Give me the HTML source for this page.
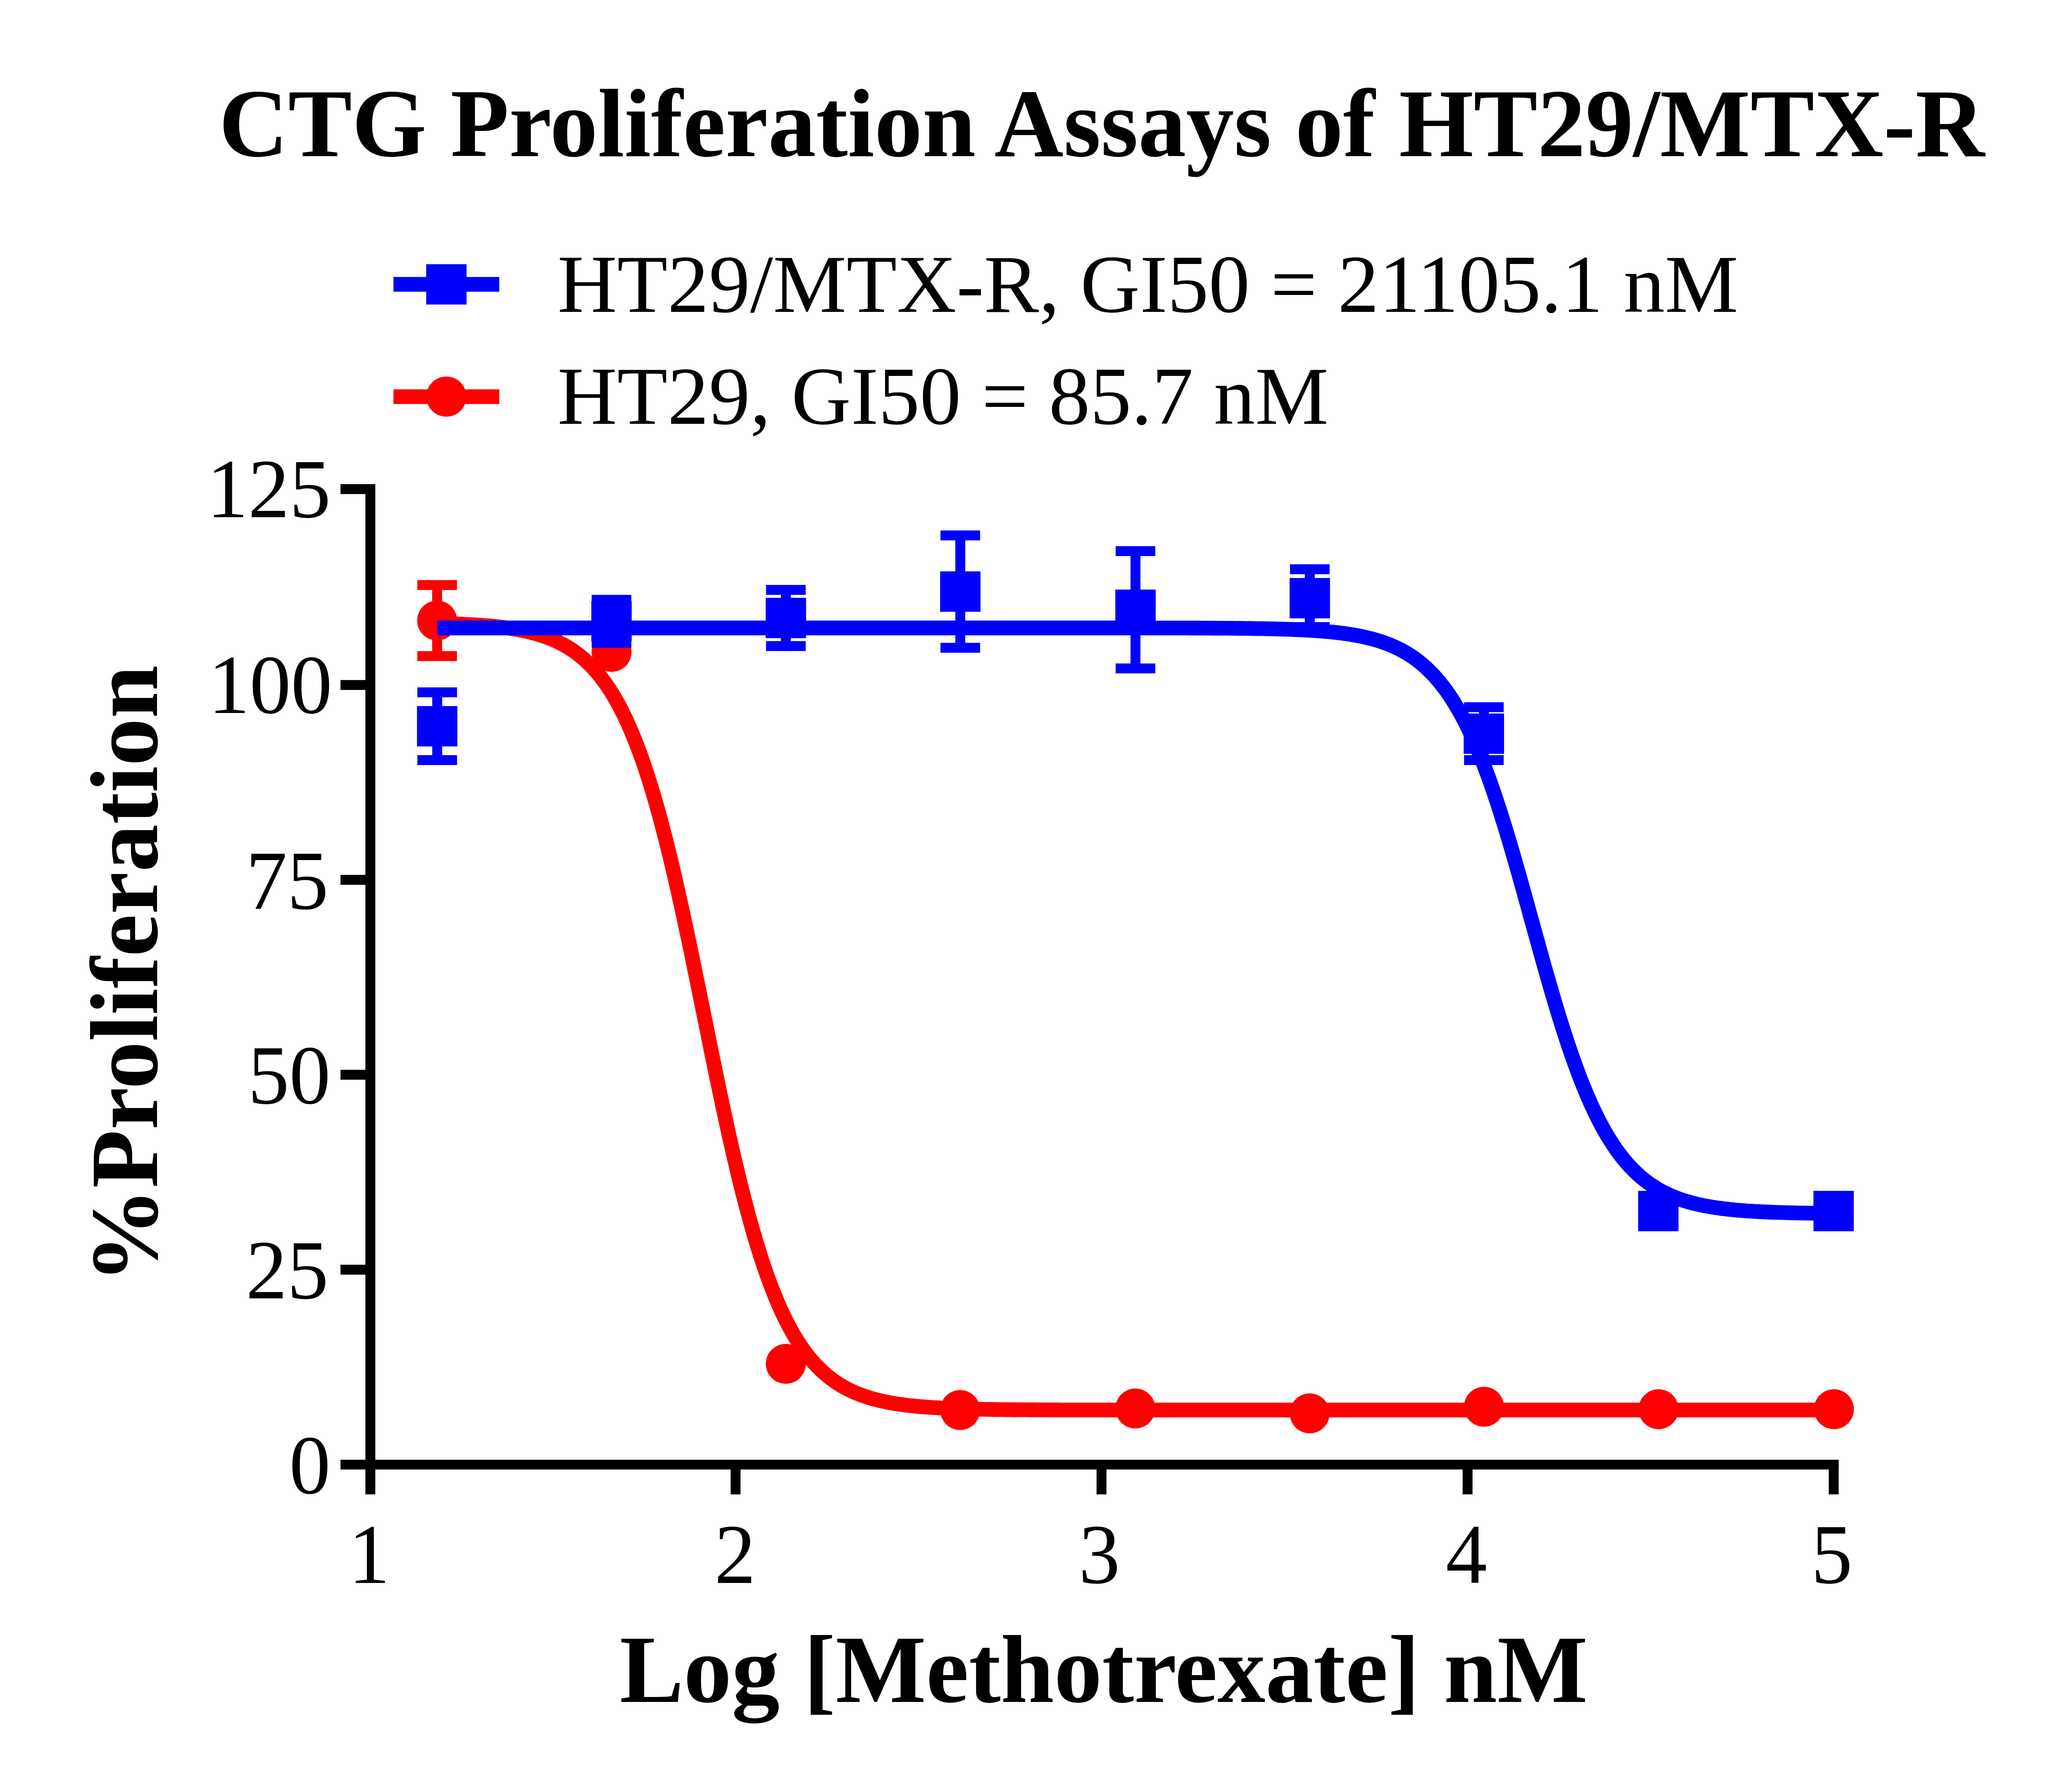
<!DOCTYPE html>
<html><head><meta charset="utf-8"><style>html,body{margin:0;padding:0;background:#fff;width:5008px;height:4338px;overflow:hidden}</style></head>
<body><svg width="5008" height="4338" viewBox="0 0 5008 4338" style="position:absolute;left:0;top:0"><rect width="5008" height="4338" fill="#fff"/><text transform="translate(2666.4 378) scale(0.987 1)" text-anchor="middle" style="font-family:'Liberation Serif',serif;font-weight:bold;font-size:235px">CTG Proliferation Assays of HT29/MTX-R</text><rect x="952.2" y="670.5" width="256.1" height="35.7" fill="#0000FF"/><rect x="1031.4" y="639.5" width="97.7" height="97.7" fill="#0000FF"/><text transform="translate(1349.3 754.5) scale(0.9989 1)" style="font-family:'Liberation Serif',serif;font-size:200px">HT29/MTX-R, GI50 = 21105.1 nM</text><rect x="952.2" y="942.5" width="256.1" height="35.5" fill="#FF0000"/><circle cx="1080.2" cy="960.1" r="48.5" fill="#FF0000"/><text transform="translate(1349.3 1026.3) scale(0.9989 1)" style="font-family:'Liberation Serif',serif;font-size:200px">HT29, GI50 = 85.7 nM</text><rect x="884.3" y="1172" width="24" height="2445.5" fill="#000"/><rect x="824" y="3533.7" width="3626" height="23.6" fill="#000"/><rect x="824" y="1172.0" width="62" height="24" fill="#000"/><rect x="824" y="1646.2" width="62" height="24" fill="#000"/><rect x="824" y="2117.9" width="62" height="24" fill="#000"/><rect x="824" y="2589.7" width="62" height="24" fill="#000"/><rect x="824" y="3061.6" width="62" height="24" fill="#000"/><rect x="1768.2" y="3555" width="24" height="62.5" fill="#000"/><rect x="2653.8" y="3555" width="24" height="62.5" fill="#000"/><rect x="3539.7" y="3555" width="24" height="62.5" fill="#000"/><rect x="4425.8" y="3555" width="24" height="62.5" fill="#000"/><text transform="translate(650.6 1251.8) scale(1 1.02)" text-anchor="middle" style="font-family:'Liberation Serif',serif;font-size:200px">125</text><text transform="translate(653.9 1725.5) scale(1 1.02)" text-anchor="middle" style="font-family:'Liberation Serif',serif;font-size:200px">100</text><text transform="translate(694.9 2199.8) scale(1 1.02)" text-anchor="middle" style="font-family:'Liberation Serif',serif;font-size:200px">75</text><text transform="translate(700.1 2671.3) scale(1 1.02)" text-anchor="middle" style="font-family:'Liberation Serif',serif;font-size:200px">50</text><text transform="translate(695.0 3143.3) scale(1 1.02)" text-anchor="middle" style="font-family:'Liberation Serif',serif;font-size:200px">25</text><text transform="translate(750.1 3614.7) scale(1 1.02)" text-anchor="middle" style="font-family:'Liberation Serif',serif;font-size:200px">0</text><text transform="translate(893.5 3832) scale(1 1.03)" text-anchor="middle" style="font-family:'Liberation Serif',serif;font-size:200px">1</text><text transform="translate(1778.9 3832) scale(1 1.03)" text-anchor="middle" style="font-family:'Liberation Serif',serif;font-size:200px">2</text><text transform="translate(2660.7 3832) scale(1 1.03)" text-anchor="middle" style="font-family:'Liberation Serif',serif;font-size:200px">3</text><text transform="translate(3549.1 3832) scale(1 1.03)" text-anchor="middle" style="font-family:'Liberation Serif',serif;font-size:200px">4</text><text transform="translate(4433.3 3832) scale(1 1.03)" text-anchor="middle" style="font-family:'Liberation Serif',serif;font-size:200px">5</text><text transform="translate(2671.2 4119.5) scale(0.9925 1)" text-anchor="middle" style="font-family:'Liberation Serif',serif;font-weight:bold;font-size:234px">Log [Methotrexate] nM</text><text transform="translate(380.3 2358.6) rotate(-90) scale(0.9869 1)" text-anchor="middle" style="font-family:'Liberation Serif',serif;font-weight:bold;font-size:234px">%Proliferation</text><rect x="1045.9" y="1416.2" width="24" height="172.0" fill="#FF0000"/><rect x="1009.9" y="1404.2" width="96" height="24" fill="#FF0000"/><rect x="1009.9" y="1576.2" width="96" height="24" fill="#FF0000"/><circle cx="1057.9" cy="1502.2" r="48.3" fill="#FF0000"/><circle cx="1480.2" cy="1578.0" r="48.3" fill="#FF0000"/><circle cx="1901.7" cy="3301.5" r="48.3" fill="#FF0000"/><circle cx="2323.6" cy="3413.3" r="48.3" fill="#FF0000"/><circle cx="2747.7" cy="3409.6" r="48.3" fill="#FF0000"/><circle cx="3169.7" cy="3421.3" r="48.3" fill="#FF0000"/><circle cx="3591.4" cy="3405.3" r="48.3" fill="#FF0000"/><circle cx="4013.9" cy="3411.4" r="48.3" fill="#FF0000"/><circle cx="4438.4" cy="3411.4" r="48.3" fill="#FF0000"/><path d="M1058.0 1509.0L1063.6 1509.1L1069.3 1509.3L1074.9 1509.4L1080.6 1509.6L1086.2 1509.8L1091.9 1510.0L1097.5 1510.2L1103.1 1510.4L1108.8 1510.6L1114.4 1510.8L1120.1 1511.1L1125.7 1511.4L1131.4 1511.6L1137.0 1511.9L1142.6 1512.3L1148.3 1512.6L1153.9 1513.0L1159.6 1513.3L1165.2 1513.7L1170.9 1514.2L1176.5 1514.6L1182.1 1515.1L1187.8 1515.6L1193.4 1516.1L1199.1 1516.7L1204.7 1517.3L1210.4 1517.9L1216.0 1518.6L1221.6 1519.3L1227.3 1520.1L1232.9 1520.9L1238.6 1521.8L1244.2 1522.7L1249.9 1523.6L1255.5 1524.6L1261.1 1525.7L1266.8 1526.8L1272.4 1528.0L1278.1 1529.3L1283.7 1530.7L1289.4 1532.1L1295.0 1533.6L1300.6 1535.2L1306.3 1536.9L1311.9 1538.7L1317.6 1540.6L1323.2 1542.6L1328.9 1544.7L1334.5 1547.0L1340.1 1549.3L1345.8 1551.9L1351.4 1554.5L1357.1 1557.3L1362.7 1560.3L1368.4 1563.4L1374.0 1566.7L1379.6 1570.2L1385.3 1573.9L1390.9 1577.8L1396.6 1582.0L1402.2 1586.3L1407.8 1590.9L1413.5 1595.7L1419.1 1600.9L1424.8 1606.2L1430.4 1611.9L1436.1 1617.9L1441.7 1624.2L1447.3 1630.8L1453.0 1637.8L1458.6 1645.1L1464.3 1652.8L1469.9 1660.9L1475.6 1669.4L1481.2 1678.3L1486.8 1687.7L1492.5 1697.5L1498.1 1707.8L1503.8 1718.6L1509.4 1729.8L1515.1 1741.6L1520.7 1754.0L1526.3 1766.8L1532.0 1780.3L1537.6 1794.3L1543.3 1808.9L1548.9 1824.0L1554.6 1839.8L1560.2 1856.2L1565.8 1873.2L1571.5 1890.9L1577.1 1909.1L1582.8 1928.0L1588.4 1947.6L1594.1 1967.7L1599.7 1988.5L1605.3 2009.9L1611.0 2031.8L1616.6 2054.4L1622.3 2077.5L1627.9 2101.2L1633.6 2125.4L1639.2 2150.1L1644.8 2175.3L1650.5 2200.9L1656.1 2227.0L1661.8 2253.4L1667.4 2280.1L1673.1 2307.2L1678.7 2334.5L1684.3 2362.0L1690.0 2389.7L1695.6 2417.4L1701.3 2445.3L1706.9 2473.2L1712.6 2501.1L1718.2 2528.9L1723.8 2556.6L1729.5 2584.1L1735.1 2611.4L1740.8 2638.5L1746.4 2665.2L1752.1 2691.7L1757.7 2717.7L1763.3 2743.4L1769.0 2768.6L1774.6 2793.3L1780.3 2817.5L1785.9 2841.3L1791.6 2864.4L1797.2 2887.0L1802.8 2909.0L1808.5 2930.4L1814.1 2951.2L1819.8 2971.4L1825.4 2991.0L1831.1 3009.9L1836.7 3028.2L1842.3 3045.9L1848.0 3062.9L1853.6 3079.4L1859.3 3095.2L1864.9 3110.4L1870.6 3125.0L1876.2 3139.0L1881.8 3152.5L1887.5 3165.4L1893.1 3177.8L1898.8 3189.6L1904.4 3200.9L1910.1 3211.7L1915.7 3222.0L1921.3 3231.8L1927.0 3241.2L1932.6 3250.2L1938.3 3258.7L1943.9 3266.8L1949.6 3274.5L1955.2 3281.9L1960.8 3288.9L1966.5 3295.5L1972.1 3301.8L1977.8 3307.8L1983.4 3313.5L1989.1 3318.9L1994.7 3324.0L2000.3 3328.9L2006.0 3333.5L2011.6 3337.8L2017.3 3342.0L2022.9 3345.9L2028.6 3349.6L2034.2 3353.1L2039.8 3356.4L2045.5 3359.6L2051.1 3362.6L2056.8 3365.4L2062.4 3368.0L2068.1 3370.6L2073.7 3372.9L2079.3 3375.2L2085.0 3377.3L2090.6 3379.3L2096.3 3381.2L2101.9 3383.0L2107.5 3384.7L2113.2 3386.4L2118.8 3387.9L2124.5 3389.3L2130.1 3390.7L2135.8 3391.9L2141.4 3393.1L2147.0 3394.3L2152.7 3395.4L2158.3 3396.4L2164.0 3397.3L2169.6 3398.2L2175.3 3399.1L2180.9 3399.9L2186.5 3400.7L2192.2 3401.4L2197.8 3402.1L2203.5 3402.7L2209.1 3403.3L2214.8 3403.9L2220.4 3404.4L2226.0 3404.9L2231.7 3405.4L2237.3 3405.9L2243.0 3406.3L2248.6 3406.7L2254.3 3407.1L2259.9 3407.4L2265.5 3407.8L2271.2 3408.1L2276.8 3408.4L2282.5 3408.7L2288.1 3408.9L2293.8 3409.2L2299.4 3409.4L2305.0 3409.7L2310.7 3409.9L2316.3 3410.1L2322.0 3410.3L2327.6 3410.4L2333.3 3410.6L2338.9 3410.8L2344.5 3410.9L2350.2 3411.1L2355.8 3411.2L2361.5 3411.3L2367.1 3411.4L2372.8 3411.5L2378.4 3411.6L2384.0 3411.7L2389.7 3411.8L2395.3 3411.9L2401.0 3412.0L2406.6 3412.1L2412.3 3412.2L2417.9 3412.2L2423.5 3412.3L2429.2 3412.4L2434.8 3412.4L2440.5 3412.5L2446.1 3412.5L2451.8 3412.6L2457.4 3412.6L2463.0 3412.7L2468.7 3412.7L2474.3 3412.7L2480.0 3412.8L2485.6 3412.8L2491.3 3412.9L2496.9 3412.9L2502.5 3412.9L2508.2 3412.9L2513.8 3413.0L2519.5 3413.0L2525.1 3413.0L2530.8 3413.0L2536.4 3413.1L2542.0 3413.1L2547.7 3413.1L2553.3 3413.1L2559.0 3413.1L2564.6 3413.1L2570.3 3413.2L2575.9 3413.2L2581.5 3413.2L2587.2 3413.2L2592.8 3413.2L2598.5 3413.2L2604.1 3413.2L2609.8 3413.2L2615.4 3413.2L2621.0 3413.3L2626.7 3413.3L2632.3 3413.3L2638.0 3413.3L2643.6 3413.3L2649.3 3413.3L2654.9 3413.3L2660.5 3413.3L2666.2 3413.3L2671.8 3413.3L2677.5 3413.3L2683.1 3413.3L2688.8 3413.3L2694.4 3413.3L2700.0 3413.3L2705.7 3413.3L2711.3 3413.3L2717.0 3413.3L2722.6 3413.3L2728.3 3413.3L2733.9 3413.4L2739.5 3413.4L2745.2 3413.4L2750.8 3413.4L2756.5 3413.4L2762.1 3413.4L2767.7 3413.4L2773.4 3413.4L2779.0 3413.4L2784.7 3413.4L2790.3 3413.4L2796.0 3413.4L2801.6 3413.4L2807.2 3413.4L2812.9 3413.4L2818.5 3413.4L2824.2 3413.4L2829.8 3413.4L2835.5 3413.4L2841.1 3413.4L2846.7 3413.4L2852.4 3413.4L2858.0 3413.4L2863.7 3413.4L2869.3 3413.4L2875.0 3413.4L2880.6 3413.4L2886.2 3413.4L2891.9 3413.4L2897.5 3413.4L2903.2 3413.4L2908.8 3413.4L2914.5 3413.4L2920.1 3413.4L2925.7 3413.4L2931.4 3413.4L2937.0 3413.4L2942.7 3413.4L2948.3 3413.4L2954.0 3413.4L2959.6 3413.4L2965.2 3413.4L2970.9 3413.4L2976.5 3413.4L2982.2 3413.4L2987.8 3413.4L2993.5 3413.4L2999.1 3413.4L3004.7 3413.4L3010.4 3413.4L3016.0 3413.4L3021.7 3413.4L3027.3 3413.4L3033.0 3413.4L3038.6 3413.4L3044.2 3413.4L3049.9 3413.4L3055.5 3413.4L3061.2 3413.4L3066.8 3413.4L3072.5 3413.4L3078.1 3413.4L3083.7 3413.4L3089.4 3413.4L3095.0 3413.4L3100.7 3413.4L3106.3 3413.4L3112.0 3413.4L3117.6 3413.4L3123.2 3413.4L3128.9 3413.4L3134.5 3413.4L3140.2 3413.4L3145.8 3413.4L3151.5 3413.4L3157.1 3413.4L3162.7 3413.4L3168.4 3413.4L3174.0 3413.4L3179.7 3413.4L3185.3 3413.4L3191.0 3413.4L3196.6 3413.4L3202.2 3413.4L3207.9 3413.4L3213.5 3413.4L3219.2 3413.4L3224.8 3413.4L3230.5 3413.4L3236.1 3413.4L3241.7 3413.4L3247.4 3413.4L3253.0 3413.4L3258.7 3413.4L3264.3 3413.4L3270.0 3413.4L3275.6 3413.4L3281.2 3413.4L3286.9 3413.4L3292.5 3413.4L3298.2 3413.4L3303.8 3413.4L3309.5 3413.4L3315.1 3413.4L3320.7 3413.4L3326.4 3413.4L3332.0 3413.4L3337.7 3413.4L3343.3 3413.4L3349.0 3413.4L3354.6 3413.4L3360.2 3413.4L3365.9 3413.4L3371.5 3413.4L3377.2 3413.4L3382.8 3413.4L3388.5 3413.4L3394.1 3413.4L3399.7 3413.4L3405.4 3413.4L3411.0 3413.4L3416.7 3413.4L3422.3 3413.4L3427.9 3413.4L3433.6 3413.4L3439.2 3413.4L3444.9 3413.4L3450.5 3413.4L3456.2 3413.4L3461.8 3413.4L3467.4 3413.4L3473.1 3413.4L3478.7 3413.4L3484.4 3413.4L3490.0 3413.4L3495.7 3413.4L3501.3 3413.4L3506.9 3413.4L3512.6 3413.4L3518.2 3413.4L3523.9 3413.4L3529.5 3413.4L3535.2 3413.4L3540.8 3413.4L3546.4 3413.4L3552.1 3413.4L3557.7 3413.4L3563.4 3413.4L3569.0 3413.4L3574.7 3413.4L3580.3 3413.4L3585.9 3413.4L3591.6 3413.4L3597.2 3413.4L3602.9 3413.4L3608.5 3413.4L3614.2 3413.4L3619.8 3413.4L3625.4 3413.4L3631.1 3413.4L3636.7 3413.4L3642.4 3413.4L3648.0 3413.4L3653.7 3413.4L3659.3 3413.4L3664.9 3413.4L3670.6 3413.4L3676.2 3413.4L3681.9 3413.4L3687.5 3413.4L3693.2 3413.4L3698.8 3413.4L3704.4 3413.4L3710.1 3413.4L3715.7 3413.4L3721.4 3413.4L3727.0 3413.4L3732.7 3413.4L3738.3 3413.4L3743.9 3413.4L3749.6 3413.4L3755.2 3413.4L3760.9 3413.4L3766.5 3413.4L3772.2 3413.4L3777.8 3413.4L3783.4 3413.4L3789.1 3413.4L3794.7 3413.4L3800.4 3413.4L3806.0 3413.4L3811.7 3413.4L3817.3 3413.4L3822.9 3413.4L3828.6 3413.4L3834.2 3413.4L3839.9 3413.4L3845.5 3413.4L3851.2 3413.4L3856.8 3413.4L3862.4 3413.4L3868.1 3413.4L3873.7 3413.4L3879.4 3413.4L3885.0 3413.4L3890.7 3413.4L3896.3 3413.4L3901.9 3413.4L3907.6 3413.4L3913.2 3413.4L3918.9 3413.4L3924.5 3413.4L3930.2 3413.4L3935.8 3413.4L3941.4 3413.4L3947.1 3413.4L3952.7 3413.4L3958.4 3413.4L3964.0 3413.4L3969.7 3413.4L3975.3 3413.4L3980.9 3413.4L3986.6 3413.4L3992.2 3413.4L3997.9 3413.4L4003.5 3413.4L4009.2 3413.4L4014.8 3413.4L4020.4 3413.4L4026.1 3413.4L4031.7 3413.4L4037.4 3413.4L4043.0 3413.4L4048.7 3413.4L4054.3 3413.4L4059.9 3413.4L4065.6 3413.4L4071.2 3413.4L4076.9 3413.4L4082.5 3413.4L4088.2 3413.4L4093.8 3413.4L4099.4 3413.4L4105.1 3413.4L4110.7 3413.4L4116.4 3413.4L4122.0 3413.4L4127.6 3413.4L4133.3 3413.4L4138.9 3413.4L4144.6 3413.4L4150.2 3413.4L4155.9 3413.4L4161.5 3413.4L4167.1 3413.4L4172.8 3413.4L4178.4 3413.4L4184.1 3413.4L4189.7 3413.4L4195.4 3413.4L4201.0 3413.4L4206.6 3413.4L4212.3 3413.4L4217.9 3413.4L4223.6 3413.4L4229.2 3413.4L4234.9 3413.4L4240.5 3413.4L4246.1 3413.4L4251.8 3413.4L4257.4 3413.4L4263.1 3413.4L4268.7 3413.4L4274.4 3413.4L4280.0 3413.4L4285.6 3413.4L4291.3 3413.4L4296.9 3413.4L4302.6 3413.4L4308.2 3413.4L4313.9 3413.4L4319.5 3413.4L4325.1 3413.4L4330.8 3413.4L4336.4 3413.4L4342.1 3413.4L4347.7 3413.4L4353.4 3413.4L4359.0 3413.4L4364.6 3413.4L4370.3 3413.4L4375.9 3413.4L4381.6 3413.4L4387.2 3413.4L4392.9 3413.4L4398.5 3413.4L4404.1 3413.4L4409.8 3413.4L4415.4 3413.4L4421.1 3413.4L4426.7 3413.4L4432.4 3413.4L4438.0 3413.4" fill="none" stroke="#FF0000" stroke-width="35.6" stroke-linejoin="round"/><rect x="1046.1" y="1676.0" width="24" height="164.0" fill="#0000FF"/><rect x="1010.1" y="1664.0" width="96" height="24" fill="#0000FF"/><rect x="1010.1" y="1828.0" width="96" height="24" fill="#0000FF"/><rect x="1467.9" y="1452.0" width="24" height="104.0" fill="#0000FF"/><rect x="1431.9" y="1440.0" width="96" height="24" fill="#0000FF"/><rect x="1431.9" y="1544.0" width="96" height="24" fill="#0000FF"/><rect x="1889.9" y="1428.0" width="24" height="136.0" fill="#0000FF"/><rect x="1853.9" y="1416.0" width="96" height="24" fill="#0000FF"/><rect x="1853.9" y="1552.0" width="96" height="24" fill="#0000FF"/><rect x="2312.0" y="1296.1" width="24" height="272.0" fill="#0000FF"/><rect x="2276.0" y="1284.1" width="96" height="24" fill="#0000FF"/><rect x="2276.0" y="1556.1" width="96" height="24" fill="#0000FF"/><rect x="2736.0" y="1334.1" width="24" height="284.0" fill="#0000FF"/><rect x="2700.0" y="1322.1" width="96" height="24" fill="#0000FF"/><rect x="2700.0" y="1606.1" width="96" height="24" fill="#0000FF"/><rect x="3157.9" y="1378.0" width="24" height="140.0" fill="#0000FF"/><rect x="3121.9" y="1366.0" width="96" height="24" fill="#0000FF"/><rect x="3121.9" y="1506.0" width="96" height="24" fill="#0000FF"/><rect x="3579.2" y="1712.0" width="24" height="128.0" fill="#0000FF"/><rect x="3543.2" y="1700.0" width="96" height="24" fill="#0000FF"/><rect x="3543.2" y="1828.0" width="96" height="24" fill="#0000FF"/><rect x="1009.2" y="1709.2" width="97.7" height="97.7" fill="#0000FF"/><rect x="1431.1" y="1455.2" width="97.7" height="97.7" fill="#0000FF"/><rect x="1853.1" y="1447.2" width="97.7" height="97.7" fill="#0000FF"/><rect x="2275.2" y="1383.2" width="97.7" height="97.7" fill="#0000FF"/><rect x="2699.2" y="1427.2" width="97.7" height="97.7" fill="#0000FF"/><rect x="3121.1" y="1399.2" width="97.7" height="97.7" fill="#0000FF"/><rect x="3542.3" y="1727.2" width="97.7" height="97.7" fill="#0000FF"/><rect x="3964.5" y="2882.8" width="97.7" height="97.7" fill="#0000FF"/><rect x="4388.8" y="2882.8" width="97.7" height="97.7" fill="#0000FF"/><path d="M1058.0 1520.1L1063.6 1520.1L1069.3 1520.1L1074.9 1520.1L1080.6 1520.1L1086.2 1520.1L1091.9 1520.1L1097.5 1520.1L1103.1 1520.1L1108.8 1520.1L1114.4 1520.1L1120.1 1520.1L1125.7 1520.1L1131.3 1520.1L1137.0 1520.1L1142.6 1520.1L1148.3 1520.1L1153.9 1520.1L1159.6 1520.1L1165.2 1520.1L1170.8 1520.1L1176.5 1520.1L1182.1 1520.1L1187.8 1520.1L1193.4 1520.1L1199.1 1520.1L1204.7 1520.1L1210.3 1520.1L1216.0 1520.1L1221.6 1520.1L1227.3 1520.1L1232.9 1520.1L1238.5 1520.1L1244.2 1520.1L1249.8 1520.1L1255.5 1520.1L1261.1 1520.1L1266.8 1520.1L1272.4 1520.1L1278.0 1520.1L1283.7 1520.1L1289.3 1520.1L1295.0 1520.1L1300.6 1520.1L1306.3 1520.1L1311.9 1520.1L1317.5 1520.1L1323.2 1520.1L1328.8 1520.1L1334.5 1520.1L1340.1 1520.1L1345.7 1520.1L1351.4 1520.1L1357.0 1520.1L1362.7 1520.1L1368.3 1520.1L1374.0 1520.1L1379.6 1520.1L1385.2 1520.1L1390.9 1520.1L1396.5 1520.1L1402.2 1520.1L1407.8 1520.1L1413.5 1520.1L1419.1 1520.1L1424.7 1520.1L1430.4 1520.1L1436.0 1520.1L1441.7 1520.1L1447.3 1520.1L1452.9 1520.1L1458.6 1520.1L1464.2 1520.1L1469.9 1520.1L1475.5 1520.1L1481.2 1520.1L1486.8 1520.1L1492.4 1520.1L1498.1 1520.1L1503.7 1520.1L1509.4 1520.1L1515.0 1520.1L1520.6 1520.1L1526.3 1520.1L1531.9 1520.1L1537.6 1520.1L1543.2 1520.1L1548.9 1520.1L1554.5 1520.1L1560.1 1520.1L1565.8 1520.1L1571.4 1520.1L1577.1 1520.1L1582.7 1520.1L1588.4 1520.1L1594.0 1520.1L1599.6 1520.1L1605.3 1520.1L1610.9 1520.1L1616.6 1520.1L1622.2 1520.1L1627.8 1520.1L1633.5 1520.1L1639.1 1520.1L1644.8 1520.1L1650.4 1520.1L1656.1 1520.1L1661.7 1520.1L1667.3 1520.1L1673.0 1520.1L1678.6 1520.1L1684.3 1520.1L1689.9 1520.1L1695.6 1520.1L1701.2 1520.1L1706.8 1520.1L1712.5 1520.1L1718.1 1520.1L1723.8 1520.1L1729.4 1520.1L1735.0 1520.1L1740.7 1520.1L1746.3 1520.1L1752.0 1520.1L1757.6 1520.1L1763.3 1520.1L1768.9 1520.1L1774.5 1520.1L1780.2 1520.1L1785.8 1520.1L1791.5 1520.1L1797.1 1520.1L1802.8 1520.1L1808.4 1520.1L1814.0 1520.1L1819.7 1520.1L1825.3 1520.1L1831.0 1520.1L1836.6 1520.1L1842.2 1520.1L1847.9 1520.1L1853.5 1520.1L1859.2 1520.1L1864.8 1520.1L1870.5 1520.1L1876.1 1520.1L1881.7 1520.1L1887.4 1520.1L1893.0 1520.1L1898.7 1520.1L1904.3 1520.1L1910.0 1520.1L1915.6 1520.1L1921.2 1520.1L1926.9 1520.1L1932.5 1520.1L1938.2 1520.1L1943.8 1520.1L1949.4 1520.1L1955.1 1520.1L1960.7 1520.1L1966.4 1520.1L1972.0 1520.1L1977.7 1520.1L1983.3 1520.1L1988.9 1520.1L1994.6 1520.1L2000.2 1520.1L2005.9 1520.1L2011.5 1520.1L2017.2 1520.1L2022.8 1520.1L2028.4 1520.1L2034.1 1520.1L2039.7 1520.1L2045.4 1520.1L2051.0 1520.1L2056.6 1520.1L2062.3 1520.1L2067.9 1520.1L2073.6 1520.1L2079.2 1520.1L2084.9 1520.1L2090.5 1520.1L2096.1 1520.1L2101.8 1520.1L2107.4 1520.1L2113.1 1520.1L2118.7 1520.1L2124.4 1520.1L2130.0 1520.1L2135.6 1520.1L2141.3 1520.1L2146.9 1520.1L2152.6 1520.1L2158.2 1520.1L2163.8 1520.1L2169.5 1520.1L2175.1 1520.1L2180.8 1520.1L2186.4 1520.1L2192.1 1520.1L2197.7 1520.1L2203.3 1520.1L2209.0 1520.1L2214.6 1520.1L2220.3 1520.1L2225.9 1520.1L2231.6 1520.1L2237.2 1520.1L2242.8 1520.1L2248.5 1520.1L2254.1 1520.1L2259.8 1520.1L2265.4 1520.1L2271.0 1520.1L2276.7 1520.1L2282.3 1520.1L2288.0 1520.1L2293.6 1520.1L2299.3 1520.1L2304.9 1520.1L2310.5 1520.1L2316.2 1520.1L2321.8 1520.1L2327.5 1520.1L2333.1 1520.1L2338.7 1520.1L2344.4 1520.1L2350.0 1520.1L2355.7 1520.1L2361.3 1520.1L2367.0 1520.1L2372.6 1520.1L2378.2 1520.1L2383.9 1520.1L2389.5 1520.1L2395.2 1520.1L2400.8 1520.1L2406.5 1520.1L2412.1 1520.1L2417.7 1520.1L2423.4 1520.1L2429.0 1520.1L2434.7 1520.1L2440.3 1520.1L2445.9 1520.1L2451.6 1520.1L2457.2 1520.1L2462.9 1520.1L2468.5 1520.1L2474.2 1520.1L2479.8 1520.1L2485.4 1520.1L2491.1 1520.1L2496.7 1520.1L2502.4 1520.1L2508.0 1520.1L2513.7 1520.1L2519.3 1520.1L2524.9 1520.1L2530.6 1520.1L2536.2 1520.1L2541.9 1520.1L2547.5 1520.1L2553.1 1520.1L2558.8 1520.1L2564.4 1520.1L2570.1 1520.1L2575.7 1520.1L2581.4 1520.1L2587.0 1520.1L2592.6 1520.1L2598.3 1520.1L2603.9 1520.1L2609.6 1520.1L2615.2 1520.1L2620.9 1520.1L2626.5 1520.1L2632.1 1520.1L2637.8 1520.1L2643.4 1520.1L2649.1 1520.1L2654.7 1520.1L2660.3 1520.1L2666.0 1520.1L2671.6 1520.1L2677.3 1520.1L2682.9 1520.1L2688.6 1520.1L2694.2 1520.1L2699.8 1520.1L2705.5 1520.1L2711.1 1520.1L2716.8 1520.1L2722.4 1520.1L2728.1 1520.1L2733.7 1520.1L2739.3 1520.1L2745.0 1520.1L2750.6 1520.1L2756.3 1520.1L2761.9 1520.1L2767.5 1520.2L2773.2 1520.2L2778.8 1520.2L2784.5 1520.2L2790.1 1520.2L2795.8 1520.2L2801.4 1520.2L2807.0 1520.2L2812.7 1520.2L2818.3 1520.2L2824.0 1520.2L2829.6 1520.2L2835.3 1520.2L2840.9 1520.3L2846.5 1520.3L2852.2 1520.3L2857.8 1520.3L2863.5 1520.3L2869.1 1520.3L2874.7 1520.3L2880.4 1520.4L2886.0 1520.4L2891.7 1520.4L2897.3 1520.4L2903.0 1520.4L2908.6 1520.5L2914.2 1520.5L2919.9 1520.5L2925.5 1520.5L2931.2 1520.6L2936.8 1520.6L2942.5 1520.6L2948.1 1520.7L2953.7 1520.7L2959.4 1520.7L2965.0 1520.8L2970.7 1520.8L2976.3 1520.9L2981.9 1520.9L2987.6 1521.0L2993.2 1521.0L2998.9 1521.1L3004.5 1521.1L3010.2 1521.2L3015.8 1521.3L3021.4 1521.3L3027.1 1521.4L3032.7 1521.5L3038.4 1521.6L3044.0 1521.7L3049.7 1521.7L3055.3 1521.8L3060.9 1522.0L3066.6 1522.1L3072.2 1522.2L3077.9 1522.3L3083.5 1522.4L3089.1 1522.6L3094.8 1522.7L3100.4 1522.9L3106.1 1523.1L3111.7 1523.2L3117.4 1523.4L3123.0 1523.6L3128.6 1523.8L3134.3 1524.1L3139.9 1524.3L3145.6 1524.6L3151.2 1524.8L3156.9 1525.1L3162.5 1525.4L3168.1 1525.7L3173.8 1526.1L3179.4 1526.4L3185.1 1526.8L3190.7 1527.2L3196.3 1527.6L3202.0 1528.1L3207.6 1528.5L3213.3 1529.0L3218.9 1529.6L3224.6 1530.1L3230.2 1530.7L3235.8 1531.3L3241.5 1532.0L3247.1 1532.7L3252.8 1533.5L3258.4 1534.2L3264.0 1535.1L3269.7 1536.0L3275.3 1536.9L3281.0 1537.9L3286.6 1538.9L3292.3 1540.0L3297.9 1541.2L3303.5 1542.5L3309.2 1543.8L3314.8 1545.2L3320.5 1546.6L3326.1 1548.2L3331.8 1549.8L3337.4 1551.5L3343.0 1553.4L3348.7 1555.3L3354.3 1557.3L3360.0 1559.5L3365.6 1561.8L3371.2 1564.2L3376.9 1566.7L3382.5 1569.4L3388.2 1572.2L3393.8 1575.2L3399.5 1578.3L3405.1 1581.6L3410.7 1585.1L3416.4 1588.8L3422.0 1592.7L3427.7 1596.8L3433.3 1601.1L3439.0 1605.6L3444.6 1610.4L3450.2 1615.4L3455.9 1620.7L3461.5 1626.2L3467.2 1632.0L3472.8 1638.1L3478.4 1644.5L3484.1 1651.3L3489.7 1658.3L3495.4 1665.7L3501.0 1673.4L3506.7 1681.5L3512.3 1689.9L3517.9 1698.8L3523.6 1708.0L3529.2 1717.6L3534.9 1727.6L3540.5 1738.1L3546.2 1749.0L3551.8 1760.3L3557.4 1772.0L3563.1 1784.2L3568.7 1796.9L3574.4 1810.0L3580.0 1823.5L3585.6 1837.5L3591.3 1852.0L3596.9 1866.9L3602.6 1882.3L3608.2 1898.1L3613.9 1914.3L3619.5 1931.0L3625.1 1948.0L3630.8 1965.5L3636.4 1983.3L3642.1 2001.5L3647.7 2020.1L3653.4 2038.9L3659.0 2058.1L3664.6 2077.5L3670.3 2097.2L3675.9 2117.0L3681.6 2137.1L3687.2 2157.3L3692.8 2177.6L3698.5 2198.1L3704.1 2218.5L3709.8 2239.0L3715.4 2259.5L3721.1 2279.9L3726.7 2300.2L3732.3 2320.4L3738.0 2340.5L3743.6 2360.4L3749.3 2380.0L3754.9 2399.5L3760.6 2418.6L3766.2 2437.5L3771.8 2456.1L3777.5 2474.3L3783.1 2492.1L3788.8 2509.6L3794.4 2526.7L3800.0 2543.3L3805.7 2559.6L3811.3 2575.4L3817.0 2590.8L3822.6 2605.7L3828.3 2620.2L3833.9 2634.2L3839.5 2647.8L3845.2 2660.9L3850.8 2673.6L3856.5 2685.8L3862.1 2697.5L3867.8 2708.9L3873.4 2719.8L3879.0 2730.2L3884.7 2740.3L3890.3 2749.9L3896.0 2759.1L3901.6 2768.0L3907.2 2776.4L3912.9 2784.5L3918.5 2792.3L3924.2 2799.7L3929.8 2806.7L3935.5 2813.5L3941.1 2819.9L3946.7 2826.0L3952.4 2831.8L3958.0 2837.4L3963.7 2842.6L3969.3 2847.7L3975.0 2852.4L3980.6 2857.0L3986.2 2861.3L3991.9 2865.4L3997.5 2869.3L4003.2 2872.9L4008.8 2876.5L4014.4 2879.8L4020.1 2882.9L4025.7 2885.9L4031.4 2888.7L4037.0 2891.4L4042.7 2894.0L4048.3 2896.4L4053.9 2898.7L4059.6 2900.8L4065.2 2902.9L4070.9 2904.8L4076.5 2906.6L4082.1 2908.4L4087.8 2910.0L4093.4 2911.5L4099.1 2913.0L4104.7 2914.4L4110.4 2915.7L4116.0 2917.0L4121.6 2918.1L4127.3 2919.2L4132.9 2920.3L4138.6 2921.3L4144.2 2922.2L4149.9 2923.1L4155.5 2923.9L4161.1 2924.7L4166.8 2925.5L4172.4 2926.2L4178.1 2926.8L4183.7 2927.5L4189.3 2928.1L4195.0 2928.6L4200.6 2929.2L4206.3 2929.7L4211.9 2930.1L4217.6 2930.6L4223.2 2931.0L4228.8 2931.4L4234.5 2931.8L4240.1 2932.1L4245.8 2932.5L4251.4 2932.8L4257.1 2933.1L4262.7 2933.4L4268.3 2933.6L4274.0 2933.9L4279.6 2934.1L4285.3 2934.4L4290.9 2934.6L4296.5 2934.8L4302.2 2935.0L4307.8 2935.1L4313.5 2935.3L4319.1 2935.5L4324.8 2935.6L4330.4 2935.8L4336.0 2935.9L4341.7 2936.0L4347.3 2936.1L4353.0 2936.3L4358.6 2936.4L4364.3 2936.5L4369.9 2936.6L4375.5 2936.6L4381.2 2936.7L4386.8 2936.8L4392.5 2936.9L4398.1 2937.0L4403.7 2937.0L4409.4 2937.1L4415.0 2937.2L4420.7 2937.2L4426.3 2937.3L4432.0 2937.3L4437.6 2937.4" fill="none" stroke="#0000FF" stroke-width="35.6" stroke-linejoin="round"/></svg></body></html>
